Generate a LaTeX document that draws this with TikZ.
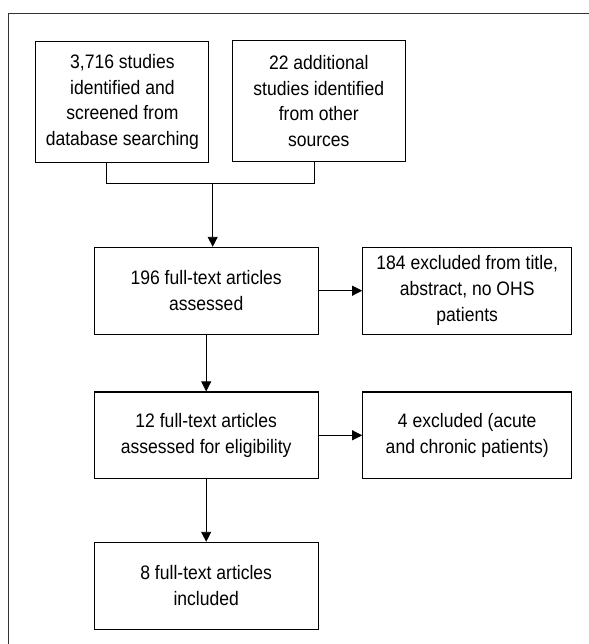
\documentclass[tikz,border=0pt]{standalone}
\usepackage{fontspec}
\setmainfont{Liberation Sans}[FakeStretch=0.9]
\usepackage{tikz}
\usetikzlibrary{arrows.meta}

\begin{document}
\begin{tikzpicture}[x=1bp, y=-1bp, >={Triangle[length=10bp,width=10bp]},
        box/.style={draw, line width=1.1bp, align=center, inner sep=0pt,
            font=\fontsize{19.5bp}{25.8bp}\selectfont},
        srcbox/.style={box, minimum width=173bp, minimum height=120.6bp},
        mainbox/.style={box, minimum width=224.3bp, minimum height=86.7bp},
        sidebox/.style={box, minimum width=209bp, minimum height=86.7bp},
        arr/.style={->, line width=0.9bp},
        link/.style={line width=0.9bp},
    ]
    \useasboundingbox (0,0) rectangle (589,644);

    % Frame (top and left only)
    \draw[line width=1.3bp, black!80] (589,13.5) -- (8.5,13.5) -- (8.5,644);

    % Sources
    \node[srcbox] (dbsrc) at (122.4, 102) {3,716 studies\\identified and\\screened from\\database searching};
    \node[srcbox] (othsrc) at (318.8, 101) {22 additional\\studies identified\\from other\\sources};

    % Main column
    \node[mainbox] (assessed) at (206.2, 290.7) {196 full-text articles\\assessed};
    \node[mainbox] (eligible) at (206.2, 435.3) {12 full-text articles\\assessed for eligibility};
    \node[mainbox] (included) at (206.2, 585.7) {8 full-text articles\\included};

    % Exclusions
    \node[sidebox] (excltitle) at (467.2, 290.7) {184 excluded from title,\\abstract, no OHS\\patients};
    \node[sidebox] (exclpat) at (467.2, 435.3) {4 excluded (acute\\and chronic patients)};

    % Merge of the two sources
    \coordinate (merge) at (212.7, 183.3);
    \draw[link] ([xshift=-15.7bp]dbsrc.south) |- (merge) -| ([xshift=-4.8bp]othsrc.south);
    \draw[arr] (merge) -- (merge |- assessed.north);

    % Arrows
    \draw[arr] (assessed) -- (excltitle);
    \draw[arr] (assessed) -- (eligible);
    \draw[arr] (eligible) -- (exclpat);
    \draw[arr] (eligible) -- (included);

\end{tikzpicture}
\end{document}
